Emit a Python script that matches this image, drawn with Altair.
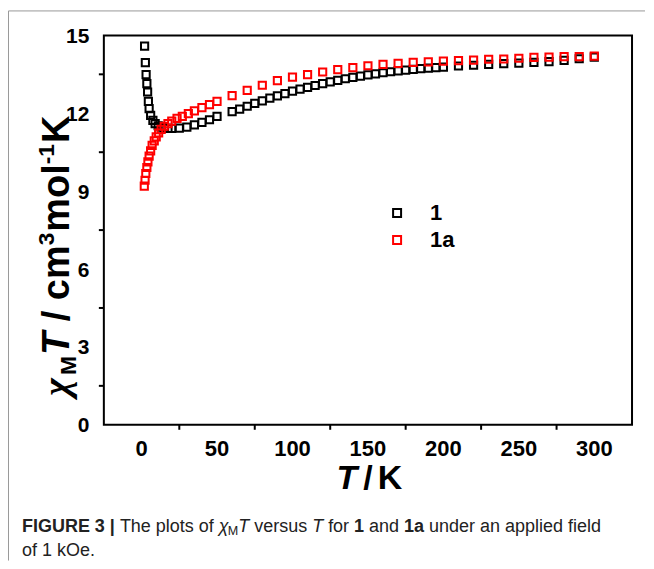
import altair as alt
import pandas as pd

# ---------------- data ----------------
T1 = [2, 2.5, 3, 3.5, 4, 4.5, 5, 6, 7.5, 9, 11, 13, 15, 17.5, 20, 25, 30, 35, 40, 45, 50,
      60, 65, 70, 75, 80, 85, 90, 95, 100, 105, 110, 115, 120, 125, 130, 135, 140, 145,
      150, 155, 160, 165, 170, 175, 180, 185, 190, 195, 200,
      210, 220, 230, 240, 250, 260, 270, 280, 290, 300]
V1 = [14.59, 13.95, 13.49, 13.14, 12.82, 12.46, 12.18, 11.92, 11.73, 11.6, 11.52, 11.47,
      11.44, 11.42, 11.42, 11.43, 11.47, 11.55, 11.65, 11.75, 11.88,
      12.06, 12.16, 12.27, 12.38, 12.48, 12.58, 12.67, 12.76, 12.85, 12.93, 13.0, 13.07,
      13.14, 13.21, 13.27, 13.33, 13.38, 13.43, 13.48, 13.52, 13.56, 13.6, 13.63, 13.66,
      13.69, 13.72, 13.74, 13.76, 13.78,
      13.82, 13.85, 13.88, 13.91, 13.93, 13.96, 13.99, 14.04, 14.1, 14.16]
T1A = [1.8, 2.3, 2.8, 3.5, 4.2, 5, 6, 7, 8.4, 9.7, 11.3, 13, 15, 17.5, 20, 23.5, 27, 31,
       35, 40, 45, 50, 60, 70, 80, 90, 100, 110, 120, 130, 140, 150, 160, 170, 180, 190,
       200, 210, 220, 230, 240, 250, 260, 270, 280, 290, 300]
V1A = [9.19, 9.42, 9.68, 9.91, 10.13, 10.35, 10.55, 10.76, 10.94, 11.09, 11.24, 11.38,
       11.5, 11.6, 11.7, 11.8, 11.88, 11.99, 12.09, 12.22, 12.33, 12.46,
       12.68, 12.88, 13.08, 13.26, 13.39, 13.49, 13.59, 13.68, 13.76, 13.83, 13.88, 13.92,
       13.96, 13.98, 14.01, 14.03, 14.05, 14.08, 14.09, 14.12, 14.15, 14.16, 14.18, 14.18,
       14.2]
SERIES = ["1", "1a"]
COLORS = ["#000000", "#ff0000"]
X_MAJOR = [0, 50, 100, 150, 200, 250, 300]
X_LABELS = ["0", "50", "100", "150", "200", "250", "300"]
X_MINOR = [25, 75, 125, 175, 225, 275]
Y_MAJOR = [0, 3, 6, 9, 12, 15]
Y_LABELS = ["0", "3", "6", "9", "12", "15"]
Y_MINOR = [1.5, 4.5, 7.5, 10.5, 13.5]

# ---------------- layout ----------------
W, H = 529, 390
FONT = "Liberation Sans"
SERIF = "Liberation Serif"

REG = {' ': 278, 'a': 556, 'b': 556, 'c': 500, 'd': 556, 'e': 556, 'f': 278, 'g': 556,
       'h': 556, 'i': 222, 'j': 222, 'k': 500, 'l': 222, 'm': 833, 'n': 556, 'o': 556,
       'p': 556, 'q': 556, 'r': 333, 's': 500, 't': 278, 'u': 556, 'v': 500, 'w': 722,
       'x': 500, 'y': 500, 'z': 500, 'T': 611, 'M': 833, 'O': 778, 'K': 667, '.': 278,
       '|': 260, '-': 333, '/': 278, 'χ': 500}
BOLD = {' ': 278, 'a': 556, 'c': 556, 'l': 278, 'm': 889, 'o': 611, 'F': 611, 'I': 278,
        'G': 778, 'U': 722, 'R': 722, 'E': 667, 'K': 722, 'T': 611, 'M': 833, '|': 280,
        '-': 333, '/': 278, 'χ': 550}
for d in "0123456789":
    REG[d] = 556
    BOLD[d] = 556


def width(s, size, bold):
    tab = BOLD if bold else REG
    return sum(tab.get(c, 556) for c in s) * size / 1000.0


dummy = pd.DataFrame({"a": [0]})


def txt(s, x, y, size, weight="normal", style="normal", font=FONT, angle=0, color="black"):
    return alt.Chart(dummy).mark_text(
        text=s, font=font, fontSize=size, fontWeight=weight, fontStyle=style,
        angle=angle, align="left", baseline="alphabetic", color=color
    ).encode(x=alt.value(x), y=alt.value(y))


def lead(s, size, bold):
    n = len(s) - len(s.lstrip(" "))
    return width(" " * n, size, bold)


layers = []

# frame lines of the figure panel
layers.append(alt.Chart(dummy).mark_rule(color="#999999", strokeWidth=1).encode(
    x=alt.value(-95.5), x2=alt.value(542), y=alt.value(-24.5)))
layers.append(alt.Chart(dummy).mark_rule(color="#999999", strokeWidth=1).encode(
    x=alt.value(-95.5), y=alt.value(-24.5), y2=alt.value(526)))

# y-axis title (rotated, rich text)
F = 38
FS = 0.6 * F
bx = -35
cur = 361
ypieces = [
    ("χ", F, "bold", "italic", SERIF, 0, 0.55 * F),
    ("M", FS, "bold", "normal", FONT, 0.2 * F, width("M", FS, True) + 1),
    ("T", F, "bold", "italic", FONT, 0, width("T", F, True)),
    (" / cm", F, "bold", "normal", FONT, 0, width(" / cm", F, True)),
    ("3", FS, "bold", "normal", FONT, -0.4 * F, width("3", FS, True) + 1),
    ("mol", F, "bold", "normal", FONT, 0, width("mol", F, True)),
    ("-1", FS, "bold", "normal", FONT, -0.4 * F, width("-1", FS, True) + 1),
    ("K", F, "bold", "normal", FONT, 0, width("K", F, True)),
]
for s, sz, wt, st, fn, sh, wd in ypieces:
    off = lead(s, sz, True)
    layers.append(txt(s.strip(), bx + sh, cur - off, sz, wt, st, fn, angle=270))
    cur -= wd

# x-axis title
FX = 34
xt = 233
XB = 454
layers.append(txt("T", xt, XB, FX, "bold", "italic"))
xt += width("T", FX, True) + 6
layers.append(txt("/", xt, XB, FX, "bold"))
xt += width("/", FX, True) + 5
layers.append(txt("K", xt, XB, FX, "bold"))

# caption
fc = 18
cx = -82
cy1 = 497
cy2 = 521
cap = [
    ("FIGURE 3 |", fc, "bold", "normal", 0),
    (" The plots of ", fc, "normal", "normal", 0),
    ("χ", fc, "normal", "italic", 0),
    ("M", 0.7 * fc, "normal", "normal", 3),
    ("T", fc, "normal", "italic", 0),
    (" versus ", fc, "normal", "normal", 0),
    ("T", fc, "normal", "italic", 0),
    (" for ", fc, "normal", "normal", 0),
    ("1", fc, "bold", "normal", 0),
    (" and ", fc, "normal", "normal", 0),
    ("1a", fc, "bold", "normal", 0),
    (" under an applied field", fc, "normal", "normal", 0),
]
for s, sz, wt, st, dy in cap:
    bold = wt == "bold"
    layers.append(txt(s.strip(), cx + lead(s, sz, bold), cy1 + dy, sz, wt, st, color="#222222"))
    cx += width(s, sz, bold)
layers.append(txt("of 1 kOe.", -82, cy2, fc, color="#222222"))

# scales
xscale = alt.Scale(domain=[-25, 325], nice=False, zero=False)
yscale = alt.Scale(domain=[0, 15], nice=False, zero=False)

# minor ticks
layers.append(alt.Chart(pd.DataFrame({"T": X_MINOR})).mark_rule(color="black", strokeWidth=2).encode(
    x=alt.X("T:Q", scale=xscale, axis=None), y=alt.value(H), y2=alt.value(H + 5)))
layers.append(alt.Chart(pd.DataFrame({"chi": Y_MINOR})).mark_rule(color="black", strokeWidth=2).encode(
    y=alt.Y("chi:Q", scale=yscale, axis=None), x=alt.value(0), x2=alt.value(-5)))

# tick labels
layers.append(alt.Chart(pd.DataFrame({"T": X_MAJOR, "lab": X_LABELS})).mark_text(
    font=FONT, fontSize=22, fontWeight="bold", align="center", baseline="alphabetic",
    color="black").encode(
    x=alt.X("T:Q", scale=xscale, axis=None), y=alt.value(H + 31), text="lab:N"))
layers.append(alt.Chart(pd.DataFrame({"chi": Y_MAJOR, "lab": Y_LABELS})).mark_text(
    font=FONT, fontSize=21, fontWeight="bold", align="right", baseline="alphabetic",
    color="black", dy=7.5).encode(
    y=alt.Y("chi:Q", scale=yscale, axis=None), x=alt.value(-14.5), text="lab:N"))

# data points
df = pd.DataFrame({
    "T": T1 + T1A,
    "chi": V1 + V1A,
    "sample": [SERIES[0]] * len(T1) + [SERIES[1]] * len(T1A),
})
axis_common = dict(grid=False, domainColor="black", domainWidth=2, tickColor="black",
                   tickWidth=2, labels=False, title=None)
points = alt.Chart(df).mark_point(shape="square", filled=False, size=52, strokeWidth=2,
                                  opacity=1).encode(
    x=alt.X("T:Q", scale=xscale, axis=alt.Axis(values=X_MAJOR, tickSize=7, **axis_common)),
    y=alt.Y("chi:Q", scale=yscale, axis=alt.Axis(values=Y_MAJOR, tickSize=7, **axis_common)),
    color=alt.Color("sample:N", scale=alt.Scale(domain=SERIES, range=COLORS),
                    legend=alt.Legend(orient="none", legendX=282.7, legendY=167, title=None,
                                      symbolType="square", symbolSize=64, symbolStrokeWidth=2,
                                      labelFont=FONT, labelFontSize=22, labelFontWeight="bold",
                                      labelColor="black", labelOffset=22, rowPadding=5,
                                      padding=0)),
)
layers.append(points)

chart = alt.layer(*layers).properties(
    width=W, height=H,
    padding={"left": 0, "top": 2, "right": 0, "bottom": 0},
).configure_view(stroke="black", strokeWidth=2)

chart.save("out.html", embed_options={"renderer": "svg", "actions": False})
